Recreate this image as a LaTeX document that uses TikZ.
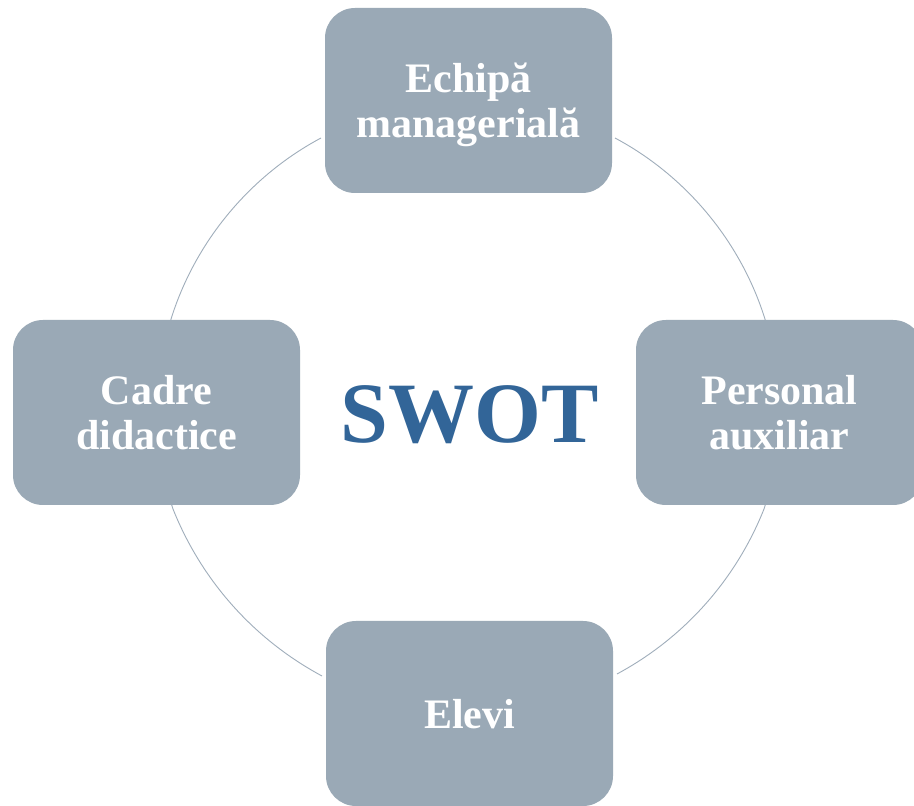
\documentclass[tikz,border=0pt]{standalone}
\usepackage{fontspec}
\setmainfont{Liberation Serif}
\definecolor{boxfill}{RGB}{154,169,182}
\definecolor{ringcol}{RGB}{160,174,187}
\definecolor{swotcol}{RGB}{50,101,152}
\tikzset{
  unitbox/.style={draw=none, fill=boxfill, rounded corners=30pt,
    minimum width=287pt, minimum height=185pt, inner sep=0pt,
    text=white, align=center, text depth=0pt,
    font=\fontsize{42}{45}\selectfont\bfseries},
  ringline/.style={draw=ringcol, line width=0.9pt},
  ring/.style={bend left=#1, looseness=0.88},
}
\begin{document}
\begin{tikzpicture}[x=1pt, y=1pt]
\clip (0,0) rectangle (914,806);
\fill[white] (0,0) rectangle (914,806);
% arc end points
\coordinate (a1) at (172,490);
\coordinate (a2) at (321,668);
\coordinate (a3) at (615,668);
\coordinate (a4) at (764,490);
\coordinate (a5) at (764,297);
\coordinate (a6) at (617,132);
\coordinate (a7) at (322,130);
\coordinate (a8) at (173,297);
\draw[ringline] (a1) to[ring=22] (a2);
\draw[ringline] (a3) to[ring=22] (a4);
\draw[ringline] (a4) to[ring=18] (a5);
\draw[ringline] (a5) to[ring=20] (a6);
\draw[ringline] (a7) to[ring=20] (a8);
\draw[ringline] (a8) to[ring=18] (a1);
% boxes
\node[unitbox] (top) at (468.5,705.5) {Echipă\\managerială};
\node[unitbox] (left) at (156.5,393.5) {Cadre\\didactice};
\node[unitbox] (right) at (779.5,393.5) {Personal\\auxiliar};
\node[unitbox] (bottom) at (469.5,92.5) {Elevi};
\node[text=swotcol, font=\fontsize{86}{90}\selectfont\bfseries] (swot) at (469.5,391) {SWOT};
\end{tikzpicture}
\end{document}
